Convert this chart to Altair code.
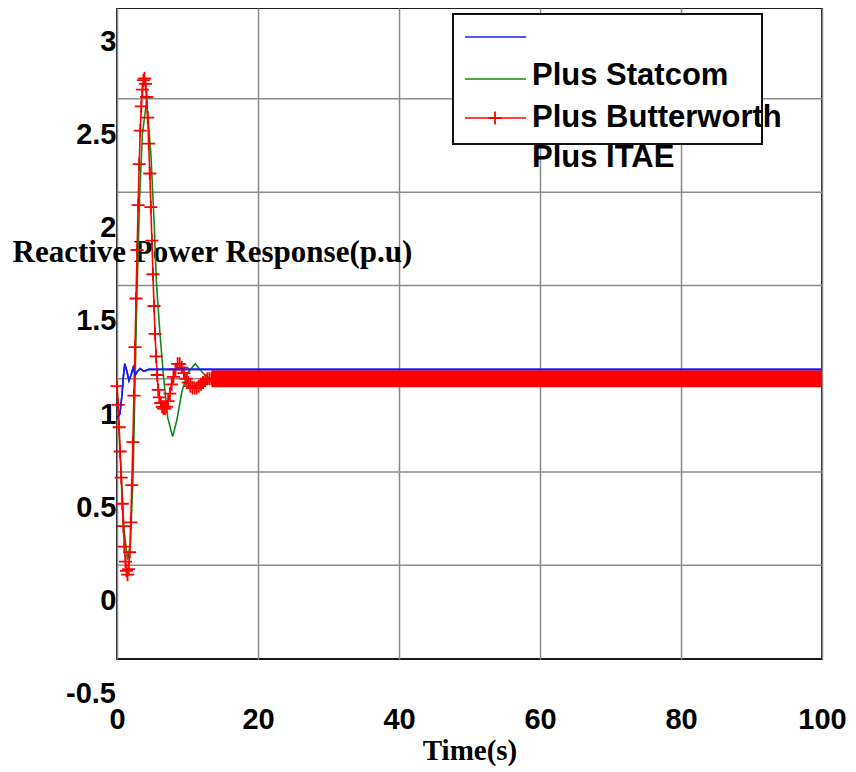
import altair as alt
import pandas as pd

# ---------------- data ----------------
X_TICKS = [0, 20, 40, 60, 80, 100]
Y_TICKS = [0, 0.5, 1, 1.5, 2, 2.5, 3]
Y_LOW_LABEL = [-0.5]
GRID_Y = [0.19, 0.69, 1.19, 1.69, 2.19, 2.69]
Y_DOMAIN = [-0.312, 3.177]
X_DOMAIN = [0, 100]

BLUE_T = [0, 0.4, 0.7, 0.9, 1.1, 1.4, 1.7, 2.0, 2.3, 2.6, 2.9, 3.3, 3.8, 4.5, 6.0, 100]
BLUE_V = [0.98, 1.0, 1.1, 1.2, 1.27, 1.23, 1.18, 1.21, 1.25, 1.21, 1.23, 1.245, 1.23, 1.24, 1.24, 1.24]

GREEN_T = [0, 0.5, 1.0, 1.5, 1.9, 2.3, 2.8, 3.2, 3.6, 4.2, 4.8, 5.3, 5.6, 6.1, 6.6,
           7.2, 7.9, 8.5, 9.2, 10.0, 11.1, 12.2, 13.2, 14.5, 100]
GREEN_V = [1.15, 0.75, 0.38, 0.22, 0.3, 0.7, 1.6, 2.15, 2.5, 2.68, 2.4, 2.0, 1.7, 1.43, 1.2,
           0.98, 0.88, 0.97, 1.12, 1.22, 1.27, 1.22, 1.19, 1.2, 1.2]

RED_T = [0, 0.15, 0.3, 0.45, 0.6, 0.75, 0.9, 1.05, 1.2, 1.35, 1.5, 1.65, 1.8, 1.95, 2.1,
         2.25, 2.4, 2.55, 2.7, 2.85, 3.0, 3.15, 3.3, 3.45, 3.6, 3.75, 3.9, 4.05, 4.2, 4.35,
         4.5, 4.65, 4.8, 4.95, 5.1, 5.25, 5.4, 5.55, 5.7, 5.85, 6.0, 6.2, 6.4, 6.6, 6.8,
         7.0, 7.25, 7.5, 7.75, 8.0, 8.3, 8.6, 8.9, 9.2, 9.5, 9.8, 10.1, 10.4, 10.7, 11.0,
         11.3, 11.6, 11.9, 12.2, 12.5, 12.8, 13.1, 13.4]
RED_V = [1.15, 1.05, 0.93, 0.80, 0.66, 0.52, 0.40, 0.29, 0.21, 0.16, 0.14, 0.17, 0.26, 0.42, 0.62,
         0.85, 1.1, 1.36, 1.62, 1.88, 2.12, 2.34, 2.52, 2.65, 2.74, 2.79, 2.8, 2.77, 2.7, 2.59,
         2.45, 2.29, 2.11, 1.93, 1.75, 1.58, 1.43, 1.31, 1.21, 1.13, 1.09, 1.06, 1.04, 1.03, 1.03,
         1.04, 1.07, 1.11, 1.16, 1.2, 1.24, 1.27, 1.27, 1.25, 1.22, 1.19, 1.17, 1.15, 1.14, 1.14,
         1.14, 1.15, 1.16, 1.17, 1.18, 1.19, 1.19, 1.19]
RED_TAIL_T = [13.4, 100]
RED_TAIL_V = [1.19, 1.19]

LEGEND_LABELS = ["", "Plus Statcom", "Plus Butterworth", "Plus ITAE"]

# ---------------- styling ----------------
BLUE = "#1a1aff"
GREEN = "#138a13"
RED = "#ff0000"
GRID = "#8a8a8a"
SANS = "Liberation Sans"
SERIF = "Liberation Serif"
PLUS = "M-1,0L1,0M0,-1L0,1"

xscale = alt.Scale(domain=X_DOMAIN, nice=False, zero=False)
yscale = alt.Scale(domain=Y_DOMAIN, nice=False, zero=False)

xaxis = alt.Axis(values=X_TICKS, grid=True, gridColor=GRID, gridWidth=1.5, ticks=False, domain=False,
                 labelFont=SANS, labelFontWeight="bold", labelFontSize=29, labelColor="#000",
                 labelPadding=46, labelFlush=False, format="d",
                 title="Time(s)", titleFont=SERIF, titleFontWeight="bold", titleFontSize=29,
                 titleColor="#000", titleY=91, titleBaseline="middle")
yaxis = alt.Axis(values=Y_TICKS, grid=False, ticks=False, domain=False,
                 labelFont=SANS, labelFontWeight="bold", labelFontSize=29, labelColor="#000",
                 labelPadding=1, labelFlush=False, format="~g",
                 title="Reactive Power Response(p.u)", titleFont=SERIF, titleFontWeight="bold",
                 titleFontSize=31, titleColor="#000", titleAngle=0, titleX=-105, titleY=244,
                 titleAlign="left", titleBaseline="middle")


def X(f):
    return alt.X(f, type="quantitative", scale=xscale, axis=xaxis)


def Y(f):
    return alt.Y(f, type="quantitative", scale=yscale, axis=yaxis)


blue_df = pd.DataFrame({"t": BLUE_T, "v": BLUE_V})
green_df = pd.DataFrame({"t": GREEN_T, "v": GREEN_V})
red_df = pd.DataFrame({"t": RED_T, "v": RED_V})
red_tail_df = pd.DataFrame({"t": RED_TAIL_T, "v": RED_TAIL_V})
red_line_df = pd.concat([red_df, red_tail_df], ignore_index=True)

grid_h = alt.Chart(pd.DataFrame({"g": GRID_Y})).mark_rule(color=GRID, strokeWidth=1.5).encode(y=Y("g"))

blue = alt.Chart(blue_df).mark_line(color=BLUE, strokeWidth=1.6).encode(x=X("t"), y=Y("v"))
green = alt.Chart(green_df).mark_line(color=GREEN, strokeWidth=1.6).encode(x=X("t"), y=Y("v"))
red_line = alt.Chart(red_line_df).mark_line(color=RED, strokeWidth=1.6).encode(x=X("t"), y=Y("v"))
red_band = alt.Chart(red_tail_df).mark_line(color=RED, strokeWidth=17, strokeCap="butt").encode(
    x=X("t"), y=Y("v"))
red_pts = alt.Chart(red_df).mark_point(shape=PLUS, size=170, filled=False, color=RED,
                                       strokeWidth=1.8, opacity=1).encode(x=X("t"), y=Y("v"))
blue_top = alt.Chart(blue_df).mark_line(color=BLUE, strokeWidth=1.6).encode(x=X("t"), y=Y("v"))

low_label = alt.Chart(pd.DataFrame({"v": Y_LOW_LABEL, "lab": ["-0.5"]})).mark_text(
    font=SANS, fontWeight="bold", fontSize=29, align="right", baseline="middle", color="#000"
).encode(x=alt.value(-1), y=Y("v"), text="lab:N")

# ---------------- legend box ----------------
one = pd.DataFrame({"a": [0]})
leg_box = alt.Chart(one).mark_rect(fill="white", stroke="#111", strokeWidth=2).encode(
    x=alt.value(336), x2=alt.value(645), y=alt.value(6), y2=alt.value(136))
leg_blue = alt.Chart(one).mark_rule(color=BLUE, strokeWidth=1.6).encode(
    x=alt.value(348), x2=alt.value(409), y=alt.value(29))
leg_green = alt.Chart(one).mark_rule(color=GREEN, strokeWidth=1.6).encode(
    x=alt.value(348), x2=alt.value(409), y=alt.value(71))
leg_red = alt.Chart(one).mark_rule(color=RED, strokeWidth=1.6).encode(
    x=alt.value(348), x2=alt.value(409), y=alt.value(110))
leg_red_pt = alt.Chart(one).mark_point(shape=PLUS, size=170, filled=False, color=RED,
                                       strokeWidth=1.8, opacity=1).encode(
    x=alt.value(378), y=alt.value(110))


def leg_text(label, y):
    return alt.Chart(one).mark_text(text=label, font=SANS, fontWeight="bold", fontSize=31,
                                    align="left", baseline="middle", color="#000").encode(
        x=alt.value(415), y=alt.value(y))


leg_labels = [leg_text(LEGEND_LABELS[1], 68), leg_text(LEGEND_LABELS[2], 110),
              leg_text(LEGEND_LABELS[3], 150)]

chart = alt.layer(
    grid_h, blue, green, red_band, red_line, red_pts, blue_top, low_label,
    leg_box, leg_blue, leg_green, leg_red, leg_red_pt, *leg_labels
).properties(
    width=705, height=651,
    autosize=alt.AutoSizeParams(type="none"),
    padding={"left": 109, "top": 0, "right": 26, "bottom": 108},
    background="white",
).configure_view(stroke="#1a1a1a", strokeWidth=2)

chart.save("out.html", embed_options={"renderer": "svg", "actions": False})
